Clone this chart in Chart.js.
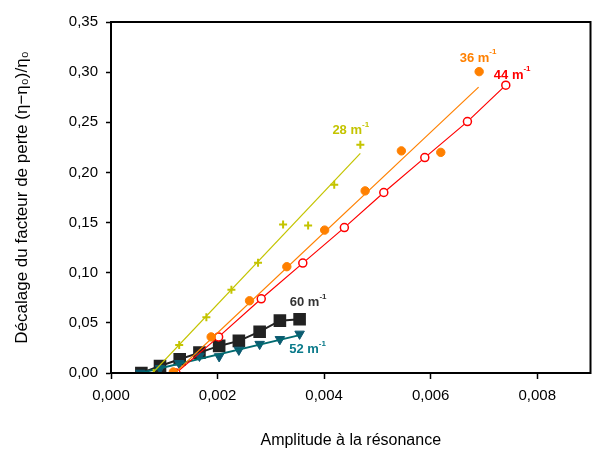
<!DOCTYPE html>
<html>
<head>
<meta charset="utf-8">
<script src="https://cdn.jsdelivr.net/npm/chart.js@4/dist/chart.umd.min.js"></script>
<style>
html,body{margin:0;padding:0;background:#fff;}
#wrap{width:600px;height:453px;position:relative;}
</style>
</head>
<body>
<div id="wrap"><canvas id="c" width="600" height="453"></canvas></div>
<script>
// ---- data ----
const xTicks = [0, 0.002, 0.004, 0.006, 0.008];
const yTicks = [0, 0.05, 0.10, 0.15, 0.20, 0.25, 0.30, 0.35];

const s28x = [0.0008, 0.00128, 0.00179, 0.00226, 0.00276, 0.00323, 0.0037, 0.00419, 0.00468];
const s28y = [0.0, 0.028, 0.0555, 0.083, 0.110, 0.148, 0.147, 0.1876, 0.2275];
const fit28x = [0.00078, 0.00468];
const fit28y = [0.0, 0.219];

const s36x = [0.00117, 0.00188, 0.00260, 0.00330, 0.00401, 0.00477, 0.00545, 0.00619, 0.00691];
const s36y = [0.001, 0.036, 0.072, 0.106, 0.1425, 0.1816, 0.2215, 0.220, 0.3005];
const fit36x = [0.0012, 0.0069];
const fit36y = [0.0, 0.285];

const s44x = [0.00122, 0.00202, 0.00282, 0.0036, 0.00438, 0.00512, 0.00589, 0.00669, 0.00741];
const s44y = [0.0, 0.036, 0.074, 0.1096, 0.145, 0.180, 0.2148, 0.2507, 0.287];

const s60x = [0.00057, 0.00092, 0.00129, 0.00166, 0.00203, 0.0024, 0.00279, 0.00317, 0.00354];
const s60y = [0.0, 0.007, 0.0137, 0.0203, 0.027, 0.032, 0.0412, 0.0522, 0.0536];

const s52x = [0.00055, 0.00092, 0.00128, 0.00166, 0.00203, 0.0024, 0.00279, 0.00317, 0.00354];
const s52y = [0.0, 0.0047, 0.0097, 0.017, 0.0165, 0.023, 0.0288, 0.0336, 0.039];
const fit52x = [0.00055, 0.00356];
const fit52y = [0.0, 0.038];

const seriesLabels = ['28 m', '36 m', '44 m', '60 m', '52 m'];
const labelX = [0.0045, 0.00689, 0.00753, 0.0037, 0.00369];
const labelY = [0.2415, 0.314, 0.297, 0.070, 0.0236];

// ---- build ----
const pts = (xs, ys) => xs.map((x, i) => ({x: x, y: ys[i]}));
const C28 = '#c4c400', C36 = '#ff8000', C44 = '#ff0000', C60 = '#222222', C52 = '#006a70';
const labelColors = [C28, C36, C44, '#333333', '#0a7a8a'];

const FONT = '"Liberation Sans", Arial, sans-serif';

const framePlugin = {
  id: 'frame',
  afterDatasetsDraw(chart) {
    const a = chart.chartArea, ctx = chart.ctx;
    ctx.save();
    ctx.strokeStyle = '#000';
    ctx.lineWidth = 2;
    ctx.strokeRect(a.left, a.top, a.right - a.left, a.bottom - a.top);
    ctx.restore();
  },
  afterDraw(chart) {
    const ctx = chart.ctx, xs = chart.scales.x, ys = chart.scales.y;
    ctx.save();
    seriesLabels.forEach((t, i) => {
      const px = xs.getPixelForValue(labelX[i]);
      const py = ys.getPixelForValue(labelY[i]);
      ctx.fillStyle = labelColors[i];
      ctx.font = 'bold 13px ' + FONT;
      const w = ctx.measureText(t).width;
      ctx.font = 'bold 8px ' + FONT;
      const w2 = ctx.measureText('-1').width;
      const x0 = px - (w + w2) / 2;
      ctx.font = 'bold 13px ' + FONT;
      ctx.textBaseline = 'middle';
      ctx.textAlign = 'left';
      ctx.fillText(t, x0, py);
      ctx.font = 'bold 8px ' + FONT;
      ctx.fillText('-1', x0 + w, py - 6);
    });
    ctx.restore();
  }
};

new Chart(document.getElementById('c'), {
  type: 'scatter',
  data: {
    datasets: [
      {data: pts(fit28x, fit28y), showLine: true, borderColor: C28, borderWidth: 1.2, pointRadius: 0},
      {data: pts(s28x, s28y), pointStyle: 'cross', pointRadius: 4, pointBorderWidth: 2, borderColor: C28, backgroundColor: C28},
      {data: pts(fit36x, fit36y), showLine: true, borderColor: C36, borderWidth: 1.2, pointRadius: 0},
      {data: pts(s36x, s36y), pointStyle: 'circle', pointRadius: 4.2, borderColor: C36, backgroundColor: C36, pointBorderWidth: 1},
      {data: pts(s44x, s44y), showLine: true, borderColor: C44, borderWidth: 1.2, pointStyle: 'circle', pointRadius: 4, pointBorderWidth: 1.5, pointBackgroundColor: '#fff', pointBorderColor: C44},
      {data: pts(fit52x, fit52y), showLine: true, borderColor: C52, borderWidth: 2, pointRadius: 0},
      {data: pts(s52x, s52y), pointStyle: 'triangle', rotation: 180, pointRadius: 5.5, borderColor: '#0b5a70', backgroundColor: '#0b5a70'},
      {data: pts(s60x, s60y), showLine: true, borderColor: C60, borderWidth: 2, pointStyle: 'rect', pointRadius: 7.5, pointBackgroundColor: C60, pointBorderColor: C60}
    ]
  },
  options: {
    responsive: false,
    animation: false,
    devicePixelRatio: 1,
    layout: {padding: {top: 22, right: 2, left: 0, bottom: 0}},
    plugins: {legend: {display: false}, tooltip: {enabled: false}},
    scales: {
      x: {
        type: 'linear', min: 0, max: 0.009,
        afterBuildTicks: s => { s.ticks = xTicks.map(v => ({value: v})); },
        afterFit: s => { s.height = 80; },
        grid: {drawOnChartArea: false, drawTicks: true, tickLength: 6, color: '#000', tickWidth: 1.5},
        border: {color: '#000', width: 2},
        ticks: {color: '#000', padding: 8, font: {family: FONT, size: 15}, maxRotation: 0,
                callback: v => v.toFixed(3).replace('.', ',')},
        title: {display: true, text: 'Amplitude à la résonance', color: '#000',
                font: {family: FONT, size: 16}, padding: {top: 0, bottom: 3}}
      },
      y: {
        type: 'linear', min: 0, max: 0.35,
        afterBuildTicks: s => { s.ticks = yTicks.map(v => ({value: v})); },
        afterFit: s => { s.width = 111; },
        grid: {drawOnChartArea: false, drawTicks: true, tickLength: 5, color: '#000', tickWidth: 1.5},
        border: {color: '#000', width: 2},
        ticks: {color: '#000', padding: 8, font: {family: FONT, size: 15},
                callback: v => v.toFixed(2).replace('.', ',')},
        title: {display: true, text: 'Décalage du facteur de perte (η−η₀)/η₀', color: '#000',
                font: {family: FONT, size: 17}, padding: {top: 12, bottom: 0}}
      }
    }
  },
  plugins: [framePlugin]
});
</script>
</body>
</html>
